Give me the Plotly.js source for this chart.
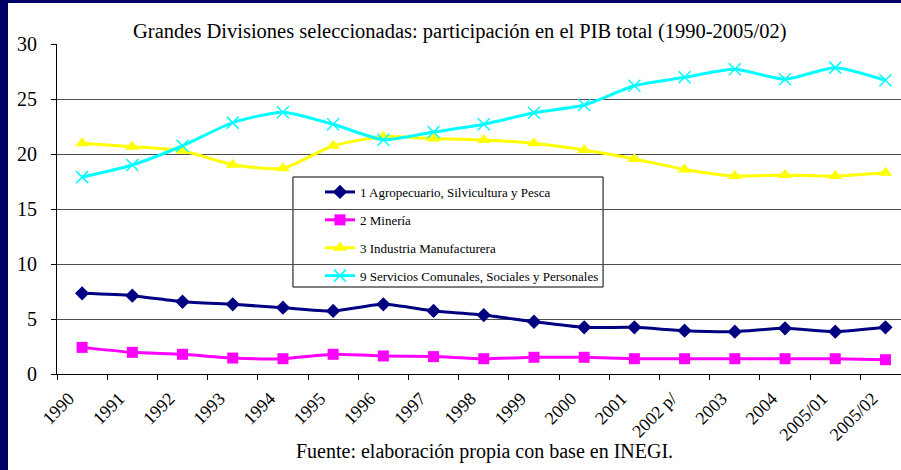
<!DOCTYPE html>
<html>
<head>
<meta charset="utf-8">
<script src="https://cdn.plot.ly/plotly-3.0.1.min.js"></script>
<style>
html,body{margin:0;padding:0;background:#000066;width:901px;height:470px;overflow:hidden;}
#chart{position:absolute;left:8px;top:3px;width:893px;height:467px;background:#fff;}
</style>
</head>
<body>
<div id="chart"></div>
<script>
var categories = ["1990","1991","1992","1993","1994","1995","1996","1997","1998","1999","2000","2001","2002 p/","2003","2004","2005/01","2005/02"];
var agropecuario = [7.33,7.12,6.57,6.33,6.03,5.73,6.33,5.73,5.36,4.75,4.24,4.24,3.94,3.85,4.15,3.85,4.24];
var mineria = [2.42,1.97,1.79,1.45,1.39,1.79,1.64,1.58,1.39,1.52,1.52,1.39,1.39,1.39,1.39,1.39,1.30];
var industria = [20.97,20.67,20.3,19.03,18.7,20.75,21.57,21.4,21.27,20.97,20.36,19.55,18.6,18.0,18.1,18.0,18.3];
var servicios = [17.9,19.0,20.75,22.85,23.8,22.7,21.3,22.0,22.7,23.75,24.45,26.2,26.97,27.7,26.8,27.85,26.7];
var seriesNames = ["1 Agropecuario, Silvicultura y Pesca","2 Minería","3 Industria Manufacturera","9 Servicios Comunales, Sociales y Personales"];
var titleText = "Grandes Divisiones seleccionadas: participación en el PIB total (1990-2005/02)";
var sourceText = "Fuente: elaboración propia con base en INEGI.";

var FONT = "'Liberation Serif', 'Times New Roman', serif";

function tr(y, name, color, symbol, msize, mline, grp) {
  return {
    x: categories, y: y, name: name, type: "scatter", mode: "lines+markers",
    legendgroup: grp,
    line: {color: color, width: 3, shape: "spline", smoothing: 0.6},
    marker: {color: color, symbol: symbol, size: msize, line: mline}
  };
}

var data = [
  tr(agropecuario, seriesNames[0], "#000080", "diamond", 11, {width:0}, "a"),
  tr(mineria, seriesNames[1], "#FF00FF", "square", 11, {width:0}, "b"),
  tr(industria, seriesNames[2], "#FFFF00", "triangle-up", 12, {width:0}, "c"),
  tr(servicios, seriesNames[3], "#00FFFF", "x-thin-open", 12, {width:1.5, color:"#00FFFF"}, "d")
];

var layout = {
  width: 893, height: 467,
  margin: {l: 49, r: 0, t: 41, b: 96},
  paper_bgcolor: "#ffffff", plot_bgcolor: "#ffffff",
  font: {family: FONT, color: "#000", size: 20},
  title: {text: titleText, font: {family: FONT, size: 20.5, color: "#000"},
          x: 0.506, xanchor: "center", xref: "container", y: 0.94, yanchor: "middle", yref: "container"},
  xaxis: {
    type: "category", range: [-0.5, 16.31],
    tickson: "boundaries", ticks: "outside", ticklen: 5, tickcolor: "#000", tickwidth: 1,
    tickangle: -45, tickfont: {family: FONT, size: 18, color: "#000"},
    ticklabelshift: -13, ticklabelstandoff: 6,
    showline: true, linecolor: "#000", linewidth: 1,
    showgrid: false, zeroline: false, fixedrange: true
  },
  yaxis: {
    range: [0, 30], dtick: 5, tick0: 0,
    ticks: "outside", ticklen: 5, tickcolor: "#000", tickwidth: 1,
    tickfont: {family: FONT, size: 20, color: "#000"},
    ticklabelstandoff: 10,
    showline: true, linecolor: "#000", linewidth: 1,
    showgrid: true, gridcolor: "#4d4d4d", gridwidth: 1,
    zeroline: false, fixedrange: true
  },
  showlegend: true,
  legend: {
    x: 0.3116, y: 0.597, xanchor: "left", yanchor: "top",
    bgcolor: "rgba(0,0,0,0)", borderwidth: 0,
    font: {family: FONT, size: 13, color: "#000"},
    traceorder: "grouped", tracegroupgap: 8, itemwidth: 30
  },
  shapes: [
    {type: "rect", xref: "paper", yref: "paper", x0: 0.2796, x1: 0.647, y0: 0.2636, y1: 0.597,
     line: {color: "#000", width: 1}, fillcolor: "#ffffff", layer: "below"}
  ],
  annotations: [
    {text: sourceText, xref: "paper", yref: "paper", x: 0.507, y: -0.236, xanchor: "center", yanchor: "middle",
     showarrow: false, font: {family: FONT, size: 20, color: "#000"}}
  ]
};

Plotly.newPlot("chart", data, layout, {displayModeBar: false, staticPlot: true});
</script>
</body>
</html>
